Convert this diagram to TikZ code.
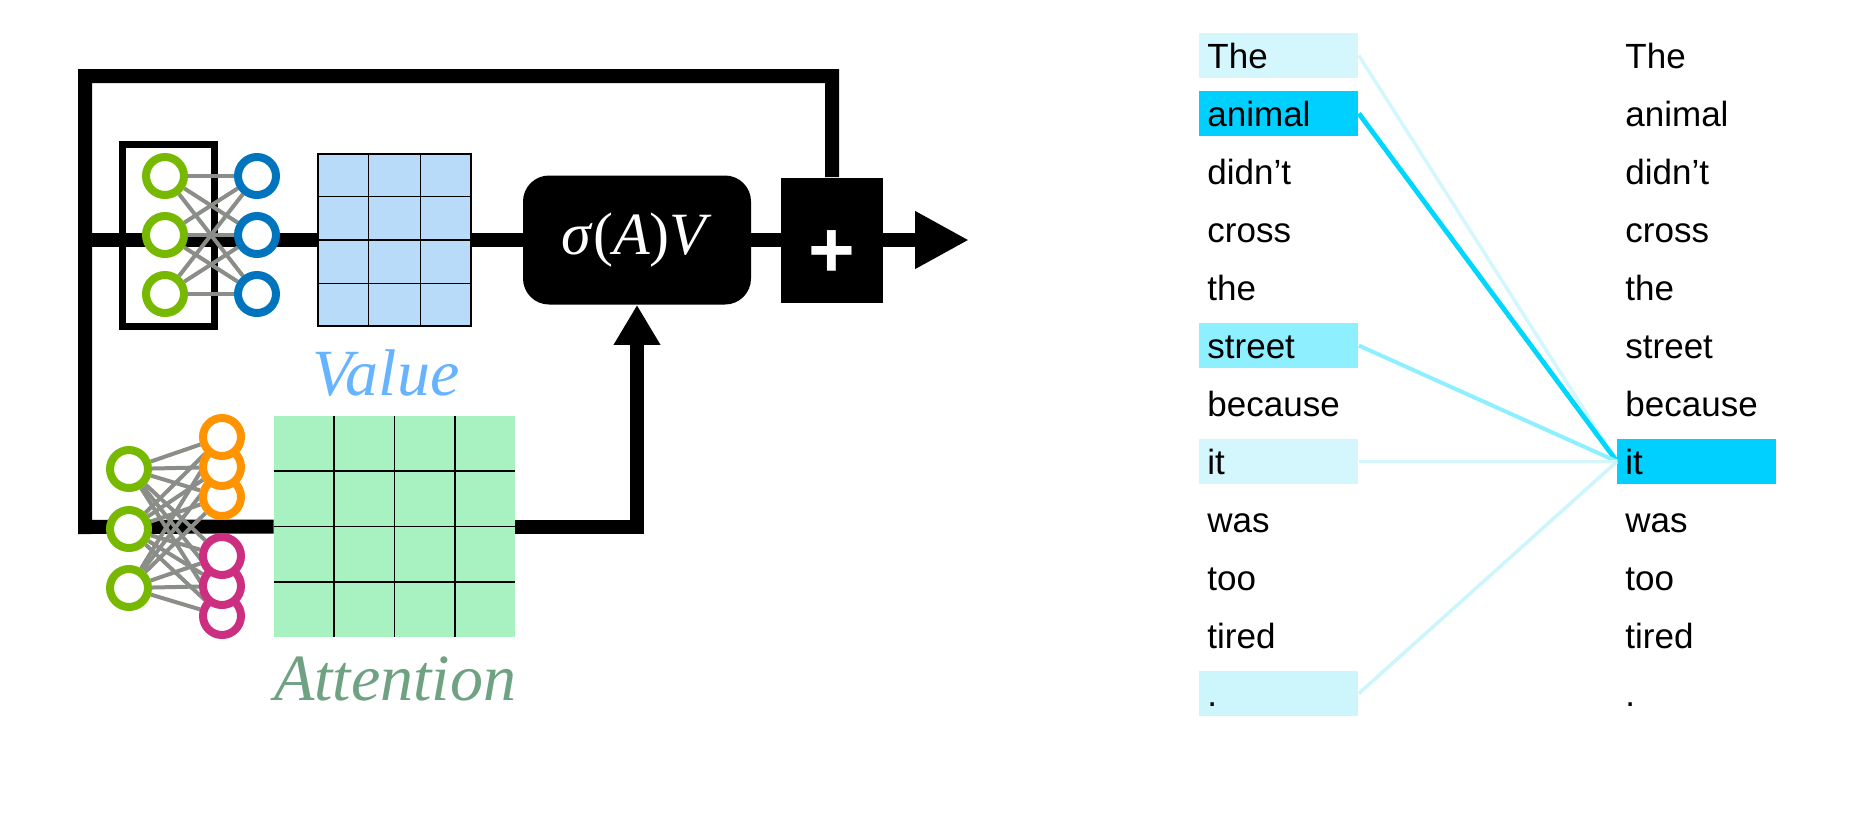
\documentclass[tikz,border=0pt]{standalone}
\usepackage{fontspec}
\setmainfont{Liberation Serif}
\newfontfamily\wordfont{Liberation Sans}
\usetikzlibrary{arrows.meta,calc,backgrounds}

\definecolor{nvgreen}{HTML}{76B900}
\definecolor{nvblue}{HTML}{0074BC}
\definecolor{nvorange}{HTML}{FF9400}
\definecolor{nvpink}{HTML}{CC2F7F}
\definecolor{syngray}{HTML}{8B8D89}
\definecolor{valfill}{HTML}{B9DBFA}
\definecolor{attfill}{HTML}{A8F2C2}
\definecolor{valtext}{HTML}{66B3FF}
\definecolor{atttext}{HTML}{6FA183}
\definecolor{attlite}{HTML}{D4F7FD}
\definecolor{atthot}{HTML}{00D0FF}
\definecolor{attmid}{HTML}{8EF0FF}
\definecolor{attdot}{HTML}{CCF5FC}

\begin{document}
\begin{tikzpicture}[x=0.5pt,y=-0.5pt,
    wire/.style={line width=7pt},
    syn/.style={line width=2pt,draw=syngray},
    neuron/.style={circle,draw=#1,line width=4pt,fill=white,minimum size=19pt,inner sep=0pt},
    cellline/.style={line width=0.7pt},
    word/.style={anchor=base west,text width=71.5pt,align=left,inner xsep=4pt,inner ysep=0pt,
      text height=17.5pt,text depth=5pt,font=\wordfont\fontsize{17.5}{20}\selectfont},
    link/.style={draw=#1,line width=1.8pt}]
  \useasboundingbox (0,0) rectangle (1851,816);

  % value and attention matrices
  \node (vmat) [draw,line width=1pt,fill=valfill,minimum width=76.5pt,minimum height=86pt,inner sep=0pt] at (394.5,240) {};
  \foreach \k in {1,2}
    \draw[cellline] ($(vmat.north west)!\k/3!(vmat.north east)$) -- ($(vmat.south west)!\k/3!(vmat.south east)$);
  \foreach \k in {1,2,3}
    \draw[cellline] ($(vmat.north west)!\k/4!(vmat.south west)$) -- ($(vmat.north east)!\k/4!(vmat.south east)$);
  \node (amat) [fill=attfill,minimum width=120.5pt,minimum height=110.5pt,inner sep=0pt] at (394.5,526.5) {};
  \foreach \k in {1,2,3} {
    \draw[cellline] ($(amat.north west)!\k/4!(amat.north east)$) -- ($(amat.south west)!\k/4!(amat.south east)$);
    \draw[cellline] ($(amat.north west)!\k/4!(amat.south west)$) -- ($(amat.north east)!\k/4!(amat.south east)$);
  }
  \node (vlab) [anchor=base,text=valtext,font=\itshape\fontsize{33}{40}\selectfont] at (386,395) {Value};
  \node (alab) [anchor=base,text=atttext,font=\itshape\fontsize{33}{40}\selectfont] at (395,700) {Attention};

  % sigma(A)V and sum
  \node (sig) [fill=black,rounded corners=13pt,minimum width=114pt,minimum height=64.5pt,text=white,
    font=\fontsize{30}{36}\selectfont] at (637,240) {\textit{σ}(\textit{A})\textit{V}};
  \node (plus) [fill=black,minimum width=51pt,minimum height=62.5pt,text=white,text height=37pt,text depth=0pt,
    font=\wordfont\bfseries\fontsize{40}{44}\selectfont] at (832,240) {+};
  \coordinate (out) at (969,240);
  \coordinate (tap) at (78,240);
  \coordinate (src) at (85,527);
  \coordinate (top) at (85,76);

  % neurons
  \foreach \y [count=\i] in {176,235,294} {
    \node (vg\i) [neuron=nvgreen] at (165,\y) {};
    \node (vb\i) [neuron=nvblue] at (257,\y) {};
  }
  \foreach \y [count=\i] in {469,529,588}
    \node (ag\i) [neuron=nvgreen] at (129,\y) {};
  \foreach \y [count=\i] in {497,467,437}
    \node (ao\i) [neuron=nvorange] at (222,\y) {};
  \foreach \y [count=\i] in {616,586,556}
    \node (am\i) [neuron=nvpink] at (222,\y) {};

  \begin{scope}[on background layer]
    \draw[wire] (amat.west) -- (src) -- (top) -| (plus.north);
    \draw[wire] (tap) -- (vmat.west);
    \draw[wire] (vmat.east) -- (sig.west) (sig.east) -- (plus.west);
    \draw[wire,-{Triangle[length=27pt,width=27pt]}] (plus.east) -- (out);
    \draw[wire,-{Triangle[length=20pt,width=22pt]}] (amat.east) -| (sig.south);
    \node (vnet) [draw,line width=3.5pt,minimum width=46pt,minimum height=91pt] at (168,235) {};
    \foreach \i in {1,2,3}
      \foreach \j in {1,2,3} {
        \draw[syn] (vg\i) -- (vb\j);
        \draw[syn] (ag\i) -- (ao\j);
        \draw[syn] (ag\i) -- (am\j);
      }
  \end{scope}

  % attention of "it"
  \foreach \w/\hue [count=\i] in {The/attlite,animal/atthot,didn’t/none,cross/none,the/none,street/attmid,
      because/none,it/attlite,was/none,too/none,tired/none,./attdot}
    \node (l\i) [word,fill=\hue] at (1199,{68+58*(\i-1)}) {\w};
  \foreach \w/\hue [count=\i] in {The/none,animal/none,didn’t/none,cross/none,the/none,street/none,
      because/none,it/atthot,was/none,too/none,tired/none,./none}
    \node (r\i) [word,fill=\hue] at (1617,{68+58*(\i-1)}) {\w};
  \draw[link=attlite] (l1.east) -- (r8.west);
  \draw[link=atthot!85!cyan,line width=2.4pt] (l2.east) -- (r8.west);
  \draw[link=attmid,line width=2pt] (l6.east) -- (r8.west);
  \draw[link=attlite] (l8.east) -- (r8.west);
  \draw[link=attdot] (l12.east) -- (r8.west);
\end{tikzpicture}
\end{document}
